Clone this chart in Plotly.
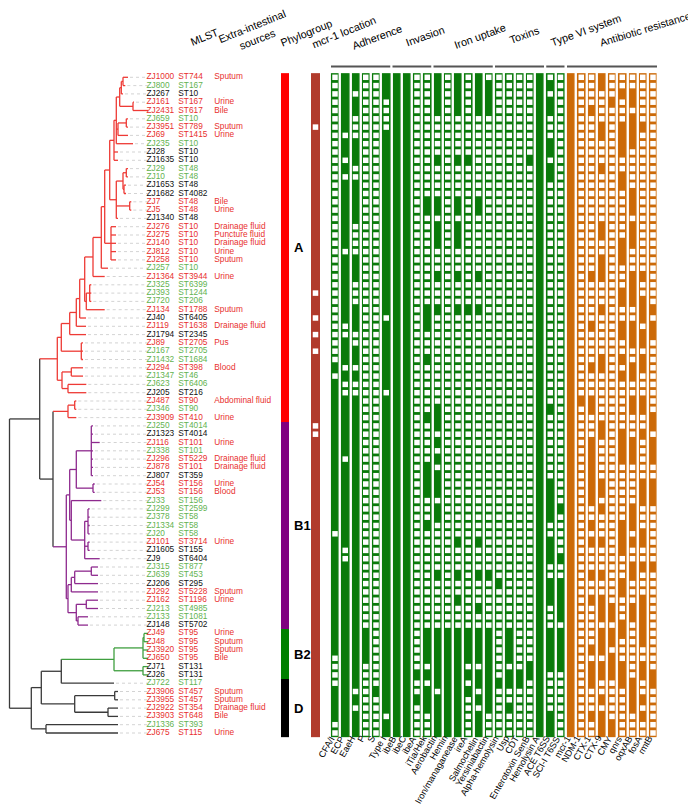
import re
import plotly.graph_objects as go

# ---------------- isolates (top to bottom) ----------------
isolates = ["ZJ1000", "ZJ800", "ZJ267", "ZJ161", "ZJ2431", "ZJ659", "ZJ3951", "ZJ69", "ZJ235", "ZJ28",
            "ZJ1635", "ZJ29", "ZJ10", "ZJ1653", "ZJ1682", "ZJ7", "ZJ5", "ZJ1340", "ZJ276", "ZJ275",
            "ZJ140", "ZJ812", "ZJ258", "ZJ257", "ZJ1364", "ZJ325", "ZJ393", "ZJ720", "ZJ134", "ZJ40",
            "ZJ119", "ZJ1794", "ZJ89", "ZJ167", "ZJ1432", "ZJ294", "ZJ1347", "ZJ623", "ZJ205", "ZJ487",
            "ZJ346", "ZJ3909", "ZJ250", "ZJ1323", "ZJ116", "ZJ338", "ZJ296", "ZJ878", "ZJ807", "ZJ54",
            "ZJ53", "ZJ33", "ZJ299", "ZJ378", "ZJ1334", "ZJ20", "ZJ101", "ZJ1605", "ZJ9", "ZJ315",
            "ZJ639", "ZJ206", "ZJ292", "ZJ162", "ZJ213", "ZJ133", "ZJ148", "ZJ49", "ZJ48", "ZJ3920",
            "ZJ650", "ZJ71", "ZJ26", "ZJ722", "ZJ3906", "ZJ3955", "ZJ2922", "ZJ3903", "ZJ1336", "ZJ675"]
mlst = ["ST744", "ST167", "ST10", "ST167", "ST617", "ST10", "ST789", "ST1415", "ST10", "ST10",
        "ST10", "ST48", "ST48", "ST48", "ST4082", "ST48", "ST48", "ST48", "ST10", "ST10",
        "ST10", "ST10", "ST10", "ST10", "ST3944", "ST6399", "ST1244", "ST206", "ST1788", "ST6405",
        "ST1638", "ST2345", "ST2705", "ST2705", "ST1684", "ST398", "ST46", "ST6406", "ST216", "ST90",
        "ST90", "ST410", "ST4014", "ST4014", "ST101", "ST101", "ST5229", "ST101", "ST359", "ST156",
        "ST156", "ST156", "ST2599", "ST58", "ST58", "ST58", "ST3714", "ST155", "ST6404", "ST877",
        "ST453", "ST295", "ST5228", "ST1196", "ST4985", "ST1081", "ST5702", "ST95", "ST95", "ST95",
        "ST95", "ST131", "ST131", "ST117", "ST457", "ST457", "ST354", "ST648", "ST393", "ST115"]
# R = clinical (red), G = green, K = black
kind = ("RGKRRGRRGK" "KGGKKRRKRR" "RRRGRGGGRK" "RKRGGRGGKR" "GRGKRGRRKR"
        "RGGGGGRKKG" "GKRRGGKRRR" "RKKGRRRRGR")
sources = {1: "Sputum", 4: "Urine", 5: "Bile", 7: "Sputum", 8: "Urine", 16: "Bile", 17: "Urine",
           19: "Drainage fluid", 20: "Puncture fluid", 21: "Drainage fluid", 22: "Urine", 23: "Sputum",
           25: "Urine", 29: "Sputum", 31: "Drainage fluid", 33: "Pus", 36: "Blood", 40: "Abdominal fluid",
           42: "Urine", 45: "Urine", 47: "Drainage fluid", 48: "Drainage fluid", 50: "Urine", 51: "Blood",
           57: "Urine", 63: "Sputum", 64: "Urine", 68: "Urine", 69: "Sputum", 70: "Sputum", 71: "Bile",
           75: "Sputum", 76: "Sputum", 77: "Drainage fluid", 78: "Bile", 80: "Urine"}
phylogroups = ["A", "B1", "B2", "D"]
phylo_sizes = [42, 25, 6, 7]
mcr1_loc_open = [7, 27, 30, 32, 34, 43, 44]

# ---------------- genes (rows where present, 1-based) ----------------
adherence = ["CFA/I", "ECP", "EaeH", "P", "S", "Type I"]
adherence_hits = ["36,38-55,57-70,75-78",
                  "1-7,9-10,12,14-21,23-30,33-35,37,40-46,48-57,60-80",
                  "1-2,4-5,9-11,14-18,23-25,29-31,34-35,37,40-74,76,78-80",
                  "68-71", "75", "1-3,8-29,31-38,40-77,79-80"]
invasion = ["ibeB", "ibeC", "ibeA", "iTia/Hek"]
invasion_hits = ["all", "all", "73,76", "16-17,29-31,35,42,48-51,55,68-71,73,75-77"]
iron = ["Aerobactin", "Hemin", "Iron/managanease", "ireA", "Salmochelin", "Yersiniabactin"]
iron_hits = ["1-5,11,16-17,19-21,25,29,41-43,45,47,49-51,53-54,61,68-74,76-80",
             "68-80",
             "1-5,11,16-17,19-21,25,29,57,61,64,68-80",
             "11,29,68-71,73,75",
             "1-5,16-17,25,29,57,61,65,68-71,73-74,76,78-80",
             "2-5,61,68-77"]
toxins = ["Alpha-hemolysin", "Usp", "CDT", "Enterotoxin SenB", "Hemolysin A"]
toxins_hits = ["62,74", "68-71,73-74,77", "73-74", "11,72-73", "all"]
t6ss = ["ACE T6SS", "SCI-I T6SS"]
t6ss_hits = ["2,4-5,9-10,12-13,41,50-54,57-59,62-64,68-72,78-80", "53,59,62-66,68-72"]
resistance = ["mcr-1", "NDM-1", "CTX-1", "CTX-9", "CMY", "qnrs", "oqxAB", "fosA", "rmtB"]
resistance_hits = ["all", "40",
                   "5,25,31,36,40-41,45-52,55,57,61,64,70,72-74,78",
                   "1-2,7-8,12,19-20,23-25,29,35-36,43-44,50-51,53,57,61,64-66,68-70,72-73,76,78-80",
                   "4,65-66,68-69,71-73,79-80",
                   "3,7-10,13-14,21-23,27-28,31-32,35,37,44-47,55-58,62-63,67-68,72-74",
                   "3-4,6-9,15-17,19-21,25-28,31-33,36-37,40-41,45-47,53-55,57,60-61,65-66,74-77",
                   "7,25,28-30,32-33,35-36,40-41,44,50-52,56-57,60,64-69,72-73,76,78",
                   "29,31-32,42-43,45-47,50-52,60,73-74"]

# ---------------- tree (newick, number after ':' = depth of node) ----------------
tree_newick = (
    "(((((((((((((((((ZJ1000:120,ZJ800:117.3):115,ZJ267:115):113.3,(ZJ161:126,ZJ2431:140):125):111.7,"
    "((ZJ659:120,ZJ3951:120):118.3,ZJ69:120):110,ZJ235:125):108.3,ZJ28:110,ZJ1635:110):106,"
    "(((ZJ29:120,ZJ10:120):118.3,(ZJ1653:118,ZJ1682:118):116):115,(ZJ7:123.3,ZJ5:123.3):121.7,ZJ1340:110):108.3):101.7,"
    "(ZJ276:108,ZJ275:108,ZJ140:108,ZJ812:108,ZJ258:108):103):96.7,ZJ257:100):93.3,ZJ1364:96.7):85,"
    "((ZJ325:83.3,ZJ393:83.3,ZJ720:83.3):81.7,ZJ134:96.7):78.3):76.7,ZJ40:78):71.7,ZJ119:78):68.3,ZJ1794:78):61.7,"
    "(ZJ89:75,ZJ167:75,ZJ1432:75):73.3):53.3,"
    "((ZJ294:75,ZJ1347:75):63.3,(ZJ623:78.3,ZJ205:78.3):60):54)A:49.3,"
    "(((ZJ487:68.3,ZJ346:68.3):66.7,ZJ3909:68.3)A:60,"
    "((((ZJ250:85,ZJ1323:85,ZJ116:91.7,ZJ338:85,ZJ296:85,ZJ878:85,ZJ807:85):83.3,(ZJ54:86.7,ZJ53:86.7):85):68.3,"
    "(ZJ33:93.3,((ZJ299:81.7,ZJ378:81.7,ZJ1334:81.7,ZJ20:81.7):80,(ZJ101:81.7,ZJ1605:81.7):80,ZJ9:91.7):76.7):63.3):61.7,"
    "((((ZJ315:90,ZJ639:90):83.3,ZJ206:90):66.7,ZJ292:90):63.3,((ZJ162:90,ZJ213:90):78.3,(ZJ133:80,ZJ148:80):70):68.3):60)B1:58.3"
    "):45):31.7,"
    "((((((ZJ49:140,ZJ48:140):136,ZJ3920:140,ZJ650:140):135,(ZJ71:140,ZJ26:140):135)B2:106,ZJ722:106):53.3,"
    "((ZJ3906:110,ZJ3955:110):106.7,(ZJ2922:110,ZJ3903:110):100):66.7):33.3,"
    "(ZJ1336:110,ZJ675:110):38):23.3):1.5"
)
clade_colors = {"A": "#ee3a35", "B1": "#8e2a8e", "B2": "#3f9f3f"}

# ---------------- helpers ----------------
W, H = 696, 808
ROW0, ROWH = 69.3, 8.3
N = len(isolates)
FONT = "Liberation Sans, Arial, sans-serif"


def ypx(px):
    return px / ROWH - ROW0 / ROWH


def rows_of(spec):
    if spec == "all":
        return set(range(1, N + 1))
    out = set()
    for part in spec.split(","):
        if "-" in part:
            a, b = part.split("-")
            out.update(range(int(a), int(b) + 1))
        elif part:
            out.add(int(part))
    return out


def parse(s):
    pos = 0

    def node():
        nonlocal pos
        kids = []
        if s[pos] == "(":
            pos += 1
            while True:
                kids.append(node())
                ch = s[pos]
                pos += 1
                if ch == ")":
                    break
        m = re.match(r"([^:,()]*):([\d.]+)", s[pos:])
        pos += m.end()
        return {"name": m.group(1), "x": float(m.group(2)), "kids": kids}
    return node()


fig = go.Figure()

# ---------------- tree ----------------
root = parse(tree_newick)
leaves = []
segs = {}


def layout(nd, color):
    color = clade_colors.get(nd["name"], color)
    nd["color"] = color
    if not nd["kids"]:
        nd["y"] = len(leaves)
        leaves.append(nd)
        return
    for k in nd["kids"]:
        layout(k, color)
    nd["y"] = (nd["kids"][0]["y"] + nd["kids"][-1]["y"]) / 2


def collect(nd):
    for k in nd["kids"]:
        s = segs.setdefault(k["color"], ([], []))
        s[0].extend([nd["x"], k["x"], None])
        s[1].extend([k["y"], k["y"], None])
        collect(k)
    if nd["kids"]:
        s = segs.setdefault(nd["color"], ([], []))
        s[0].extend([nd["x"], nd["x"], None])
        s[1].extend([nd["kids"][0]["y"], nd["kids"][-1]["y"], None])


layout(root, "#3a3a3a")
collect(root)
assert [lf["name"] for lf in leaves] == isolates
for col, (xs, ys) in segs.items():
    fig.add_trace(go.Scatter(x=xs, y=ys, mode="lines", line=dict(color=col, width=1.3),
                             hoverinfo="skip"))
lx, ly = [], []
for lf in leaves:
    if lf["x"] < 136:
        lx.extend([lf["x"] + 2, 140, None])
        ly.extend([lf["y"], lf["y"], None])
fig.add_trace(go.Scatter(x=lx, y=ly, mode="lines", line=dict(color="#c8c8c8", width=0.8, dash="3px,3px"),
                         hoverinfo="skip"))

# ---------------- labels ----------------
text_colors = {"R": "#e8302e", "G": "#63b34f", "K": "#111111"}
rows = list(range(N))
for k, col in text_colors.items():
    idx = [i for i in rows if kind[i] == k]
    fig.add_trace(go.Scatter(x=[138.5] * len(idx), y=idx, mode="text", text=[isolates[i] for i in idx],
                             textposition="middle right", textfont=dict(size=8.3, color=col, family=FONT),
                             hoverinfo="skip"))
    fig.add_trace(go.Scatter(x=[170.3] * len(idx), y=idx, mode="text", text=[mlst[i] for i in idx],
                             textposition="middle right", textfont=dict(size=8.3, color=col, family=FONT),
                             hoverinfo="skip"))
src_rows = sorted(sources)
fig.add_trace(go.Scatter(x=[206.3] * len(src_rows), y=[r - 1 for r in src_rows], mode="text",
                         text=[sources[r] for r in src_rows], textposition="middle right",
                         textfont=dict(size=8.3, color=text_colors["R"], family=FONT),
                         hoverinfo="skip"))

# ---------------- phylogroup bar ----------------
phylo_z, start, mids = [], 0, []
for g, n in enumerate(phylo_sizes):
    phylo_z += [[g]] * n
    mids.append(start + (n - 1) / 2)
    start += n
fig.add_trace(go.Heatmap(z=phylo_z, x0=277, dx=8, y0=0, dy=1, zmin=0, zmax=3, showscale=False,
                         colorscale=[[0, "#ff0000"], [1 / 6, "#ff0000"], [1 / 6, "#800080"], [0.5, "#800080"],
                                     [0.5, "#008000"], [5 / 6, "#008000"], [5 / 6, "#000000"], [1, "#000000"]],
                         hoverinfo="skip"))
for name, m in zip(phylogroups, mids):
    fig.add_annotation(x=284, y=m, text="<b>%s</b>" % name, showarrow=False, xanchor="left",
                       font=dict(size=13, color="black", family=FONT))

# ---------------- mcr-1 location ----------------
fig.add_trace(go.Heatmap(z=[[1]] * N, x0=307.5, dx=9, y0=0, dy=1, showscale=False,
                         colorscale=[[0, "#b13b2c"], [1, "#b13b2c"]], hoverinfo="skip"))
fig.add_trace(go.Scatter(x=[307.5] * len(mcr1_loc_open), y=[r - 1 for r in mcr1_loc_open], mode="markers",
                         marker=dict(symbol="square", size=5.5, color="white"), hoverinfo="skip"))

# ---------------- gene matrices ----------------
green_genes = adherence + invasion + iron + toxins + t6ss
green_hits = adherence_hits + invasion_hits + iron_hits + toxins_hits + t6ss_hits
STEP = 10.25
GX0, OX0 = 327, 563


def matrix(genes, hits, x0, color):
    fig.add_trace(go.Heatmap(z=[[1] * len(genes)] * N, x0=x0, dx=STEP, y0=0, dy=1, xgap=2.4,
                             showscale=False, colorscale=[[0, color], [1, color]], hoverinfo="skip"))
    ax, ay = [], []
    for j, spec in enumerate(hits):
        have = rows_of(spec)
        for r in range(1, N + 1):
            if r not in have:
                ax.append(x0 + j * STEP)
                ay.append(r - 1)
    fig.add_trace(go.Scatter(x=ax, y=ay, mode="markers", hoverinfo="skip",
                             marker=dict(symbol="square", size=5.5, color="white")))
    for j, g in enumerate(genes):
        fig.add_annotation(x=x0 + j * STEP + 3, y=ypx(725), text=g, textangle=-60, showarrow=False,
                           xanchor="right", yanchor="top", borderpad=0,
                           font=dict(size=9.1, color="black", family=FONT))


matrix(green_genes, green_hits, GX0, "#0a7a0a")
matrix(resistance, resistance_hits, OX0, "#cc6a08")

# ---------------- group headers ----------------
groups = [("Adherence", adherence, 369, 29), ("Invasion", invasion, 417, 28),
          ("Iron uptake", iron, 472, 28), ("Toxins", toxins, 516, 27),
          ("Type VI system", t6ss, 578, 22)]
j0 = 0
for name, genes, cx, cy in groups:
    x1 = GX0 + j0 * STEP - 4
    x2 = GX0 + (j0 + len(genes) - 1) * STEP + 4
    fig.add_shape(type="line", x0=x1, x1=x2, y0=ypx(58.5), y1=ypx(58.5),
                  line=dict(color="#555555", width=2))
    fig.add_annotation(x=cx, y=ypx(cy), text=name, textangle=-20, showarrow=False,
                       font=dict(size=10.8, color="black", family=FONT))
    j0 += len(genes)
fig.add_shape(type="line", x0=OX0 - 4, x1=OX0 + (len(resistance) - 1) * STEP + 4,
              y0=ypx(58.5), y1=ypx(58.5), line=dict(color="#555555", width=2))
fig.add_annotation(x=686, y=ypx(21), text="Antibiotic resistance", textangle=-17, showarrow=False,
                   xanchor="right", font=dict(size=10.6, color="black", family=FONT))
for text, cx, cy in [("MLST", 196, 29), ("Extra-intestinal<br>sources", 246, 25),
                     ("Phylogroup", 298, 25), ("mcr-1 location", 336, 24)]:
    fig.add_annotation(x=cx, y=ypx(cy), text=text, textangle=-22, showarrow=False,
                       font=dict(size=10.8, color="black", family=FONT))

fig.update_layout(width=W, height=H, margin=dict(l=0, r=0, t=0, b=0), showlegend=False,
                  plot_bgcolor="white", paper_bgcolor="white")
fig.update_xaxes(range=[0, W], visible=False, fixedrange=True)
fig.update_yaxes(range=[ypx(H), ypx(0)], visible=False, fixedrange=True)
fig.write_html("out.html")
